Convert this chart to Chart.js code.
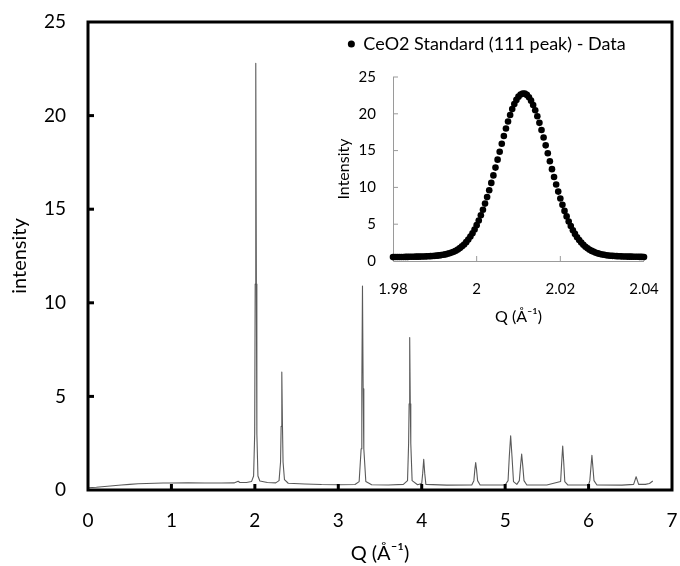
<!DOCTYPE html>
<html lang="en">
<head>
  <meta charset="UTF-8" />
  <title>CeO2 Standard – diffraction pattern</title>
  <script src="https://cdn.jsdelivr.net/npm/chart.js"></script>
  <style>
    html, body { margin: 0; padding: 0; background: #fff; }
    #wrap { position: relative; width: 680px; height: 566px; }
    #mainChart { position: absolute; left: 0; top: 0; }
    #insetChart { position: absolute; left: 330px; top: 25px; }
  </style>
</head>
<body>
  <div id="wrap">
    <canvas id="mainChart" width="680" height="566"></canvas>
    <canvas id="insetChart" width="340" height="305"></canvas>
  </div>

  <script>
    // full pattern (Q in 1/Å, intensity)
    const specQ = [
      0.00, 0.10, 0.20, 0.30, 0.40, 0.50, 0.60, 0.70, 0.80, 0.90, 1.00, 1.20, 1.40, 1.60, 1.75, 1.80, 1.82, 1.90, 1.96,
      1.985, 1.998, 2.004, 2.011, 2.018, 2.024, 2.037, 2.06, 2.15, 2.25,
      2.29, 2.308, 2.315, 2.323, 2.331, 2.338, 2.355, 2.40, 2.60, 2.80, 3.00, 3.20,
      3.25, 3.274, 3.282, 3.29, 3.298, 3.306, 3.33, 3.40, 3.60, 3.78,
      3.83, 3.843, 3.849, 3.856, 3.863, 3.869, 3.885, 3.95,
      4.00, 4.012, 4.024, 4.036, 4.05, 4.30, 4.60,
      4.625, 4.637, 4.647, 4.657, 4.67, 4.70, 5.00,
      5.035, 5.05, 5.066, 5.082, 5.10, 5.14,
      5.17, 5.185, 5.198, 5.211, 5.226, 5.26, 5.50,
      5.665, 5.678, 5.69, 5.702, 5.715, 5.75, 6.00,
      6.015, 6.028, 6.04, 6.052, 6.065, 6.10, 6.40,
      6.54, 6.555, 6.57, 6.585, 6.60, 6.68, 6.73, 6.77
    ];
    const specI = [
      0.12, 0.15, 0.19, 0.23, 0.27, 0.30, 0.33, 0.35, 0.36, 0.37, 0.37, 0.38, 0.37, 0.37, 0.38, 0.47, 0.40, 0.40, 0.45,
      0.75, 3.0, 11.0, 22.8, 11.0, 3.0, 0.75, 0.48, 0.40, 0.38,
      0.50, 1.5, 3.4, 6.3, 3.4, 1.5, 0.55, 0.36, 0.32, 0.29, 0.28, 0.29,
      0.45, 2.2, 5.4, 10.9, 5.4, 2.2, 0.45, 0.28, 0.27, 0.30,
      0.50, 2.5, 4.6, 8.15, 4.6, 2.5, 0.50, 0.28,
      0.35, 0.90, 1.64, 0.90, 0.30, 0.26, 0.27,
      0.50, 1.10, 1.46, 1.10, 0.50, 0.27, 0.27,
      0.50, 1.80, 2.90, 1.80, 0.45, 0.30,
      0.50, 1.30, 1.92, 1.30, 0.50, 0.27, 0.27,
      0.45, 1.50, 2.35, 1.50, 0.45, 0.27, 0.27,
      0.50, 1.20, 1.85, 1.20, 0.50, 0.27, 0.26,
      0.30, 0.50, 0.71, 0.50, 0.30, 0.30, 0.35, 0.48
    ];

    // inset: CeO2 (111) peak
    const insetQ = [
      1.9800, 1.9805, 1.9810, 1.9815, 1.9820, 1.9825, 1.9830, 1.9835, 1.9840, 1.9845,
      1.9850, 1.9855, 1.9860, 1.9865, 1.9870, 1.9875, 1.9880, 1.9885, 1.9890, 1.9895,
      1.9900, 1.9905, 1.9910, 1.9915, 1.9920, 1.9925, 1.9930, 1.9935, 1.9940, 1.9945,
      1.9950, 1.9955, 1.9960, 1.9965, 1.9970, 1.9975, 1.9980, 1.9985, 1.9990, 1.9995,
      2.0000, 2.0005, 2.0010, 2.0015, 2.0020, 2.0025, 2.0030, 2.0035, 2.0040, 2.0045,
      2.0050, 2.0055, 2.0060, 2.0065, 2.0070, 2.0075, 2.0080, 2.0085, 2.0090, 2.0095,
      2.0100, 2.0105, 2.0110, 2.0115, 2.0120, 2.0125, 2.0130, 2.0135, 2.0140, 2.0145,
      2.0150, 2.0155, 2.0160, 2.0165, 2.0170, 2.0175, 2.0180, 2.0185, 2.0190, 2.0195,
      2.0200, 2.0205, 2.0210, 2.0215, 2.0220, 2.0225, 2.0230, 2.0235, 2.0240, 2.0245,
      2.0250, 2.0255, 2.0260, 2.0265, 2.0270, 2.0275, 2.0280, 2.0285, 2.0290, 2.0295,
      2.0300, 2.0305, 2.0310, 2.0315, 2.0320, 2.0325, 2.0330, 2.0335, 2.0340, 2.0345,
      2.0350, 2.0355, 2.0360, 2.0365, 2.0370, 2.0375, 2.0380, 2.0385, 2.0390, 2.0395,
      2.0400
    ];
    const insetI = [
      0.53, 0.54, 0.54, 0.54, 0.55, 0.55, 0.56, 0.56, 0.57, 0.57,
      0.58, 0.59, 0.59, 0.60, 0.61, 0.62, 0.63, 0.65, 0.66, 0.68,
      0.70, 0.73, 0.76, 0.80, 0.85, 0.90, 0.97, 1.05, 1.15, 1.26,
      1.40, 1.57, 1.76, 1.99, 2.25, 2.56, 2.92, 3.32, 3.78, 4.29,
      4.87, 5.51, 6.21, 6.97, 7.80, 8.68, 9.62, 10.61, 11.63, 12.69,
      13.77, 14.85, 15.93, 16.98, 18.00, 18.95, 19.84, 20.64, 21.33, 21.89,
      22.33, 22.62, 22.76, 22.74, 22.57, 22.25, 21.79, 21.20, 20.48, 19.67,
      18.77, 17.80, 16.77, 15.71, 14.64, 13.55, 12.48, 11.42, 10.40, 9.43,
      8.50, 7.63, 6.81, 6.06, 5.37, 4.75, 4.18, 3.68, 3.23, 2.84,
      2.50, 2.20, 1.94, 1.72, 1.53, 1.37, 1.24, 1.13, 1.03, 0.95,
      0.89, 0.84, 0.79, 0.75, 0.72, 0.70, 0.68, 0.66, 0.64, 0.63,
      0.62, 0.61, 0.60, 0.59, 0.59, 0.58, 0.57, 0.57, 0.56, 0.56,
      0.55
    ];
    const insetQTicks = [1.98, 2.00, 2.02, 2.04];
    const insetLabel = "CeO2 Standard (111 peak) - Data";

    const FONT = "Lato, 'Open Sans', sans-serif";

    // draws tick marks pointing into the plot area
    function inwardTicks(ctx, chart, values, axis, len) {
      const area = chart.chartArea;
      const scale = chart.scales[axis];
      values.forEach(v => {
        const p = scale.getPixelForValue(v);
        ctx.beginPath();
        if (axis === "x") {
          ctx.moveTo(p, area.bottom);
          ctx.lineTo(p, area.bottom - len);
        } else {
          ctx.moveTo(area.left, p);
          ctx.lineTo(area.left + len, p);
        }
        ctx.stroke();
      });
    }

    // stop edge tick labels from pushing the plot area inwards
    function fixX(h) {
      return scale => { scale.height = h; scale.paddingLeft = 0; scale.paddingRight = 0; };
    }
    function fixY(w) {
      return scale => { scale.width = w; scale.paddingTop = 0; scale.paddingBottom = 0; };
    }

    const mainFrame = {
      id: "mainFrame",
      afterDraw(chart) {
        const { ctx, chartArea: a } = chart;
        ctx.save();
        ctx.strokeStyle = "#000";
        ctx.lineWidth = 3;
        ctx.strokeRect(a.left, a.top, a.right - a.left, a.bottom - a.top);
        const xs = chart.scales.x.ticks.map(t => t.value).filter(v => v > 0 && v < 7);
        const ys = chart.scales.y.ticks.map(t => t.value).filter(v => v > 0 && v < 25);
        inwardTicks(ctx, chart, xs, "x", 6);
        inwardTicks(ctx, chart, ys, "y", 6);
        ctx.restore();
      }
    };

    new Chart(document.getElementById("mainChart"), {
      type: "line",
      data: {
        datasets: [{
          data: specQ.map((q, i) => ({ x: q, y: specI[i] })),
          borderColor: "#5a5a5a",
          borderWidth: 1.1,
          borderJoinStyle: "round",
          pointRadius: 0,
          tension: 0,
          fill: false
        }]
      },
      options: {
        responsive: false,
        animation: false,
        layout: { padding: { top: 22, right: 8, left: 0, bottom: 0 } },
        plugins: { legend: { display: false }, tooltip: { enabled: false } },
        scales: {
          x: {
            type: "linear",
            min: 0, max: 7,
            ticks: { stepSize: 1, color: "#000", padding: 19, font: { family: FONT, size: 19 } },
            grid: { display: false, drawTicks: false },
            border: { display: false },
            title: { display: true, text: "Q (Å⁻¹)", color: "#000", font: { family: FONT, size: 20 }, padding: { top: 0, bottom: 0 } },
            afterFit: fixX(76)
          },
          y: {
            min: 0, max: 25,
            ticks: { stepSize: 5, color: "#000", padding: 22, font: { family: FONT, size: 19 } },
            grid: { display: false, drawTicks: false },
            border: { display: false },
            title: { display: true, text: "intensity", color: "#000", font: { family: FONT, size: 20 }, padding: { top: 8, bottom: 0 } },
            afterFit: fixY(88)
          }
        }
      },
      plugins: [mainFrame]
    });

    const insetAxes = {
      id: "insetAxes",
      beforeInit(chart) {
        // leave extra room between the legend and the plot
        const fit = chart.legend.fit;
        chart.legend.fit = function () {
          fit.bind(chart.legend)();
          this.height += 14;
        };
      },
      beforeDatasetsDraw(chart) {
        const { ctx, chartArea: a } = chart;
        ctx.save();
        ctx.strokeStyle = "#9a9a9a";
        ctx.lineWidth = 1;
        ctx.beginPath();
        ctx.moveTo(a.left + 0.5, a.top);
        ctx.lineTo(a.left + 0.5, a.bottom + 0.5);
        ctx.lineTo(a.right, a.bottom + 0.5);
        ctx.stroke();
        const xs = chart.scales.x.ticks.map(t => t.value).slice(1);
        const ys = chart.scales.y.ticks.map(t => t.value).filter(v => v > 0);
        inwardTicks(ctx, chart, xs, "x", 5);
        inwardTicks(ctx, chart, ys, "y", 5);
        ctx.restore();
      }
    };

    new Chart(document.getElementById("insetChart"), {
      type: "scatter",
      data: {
        datasets: [{
          label: insetLabel,
          data: insetQ.map((q, i) => ({ x: q, y: insetI[i] })),
          backgroundColor: "#000",
          borderColor: "#000",
          pointRadius: 3.3,
          pointBorderWidth: 0,
          pointStyle: "circle",
          clip: false
        }]
      },
      options: {
        responsive: false,
        animation: false,
        layout: { padding: { top: 0, right: 26, left: 0, bottom: 0 } },
        plugins: {
          tooltip: { enabled: false },
          legend: {
            display: true,
            labels: {
              usePointStyle: true,
              boxWidth: 6, boxHeight: 5,
              padding: 10,
              color: "#000",
              font: { family: FONT, size: 18 }
            }
          }
        },
        scales: {
          x: {
            type: "linear",
            min: 1.98, max: 2.04,
            afterBuildTicks(scale) { scale.ticks = insetQTicks.map(v => ({ value: v })); },
            ticks: {
              color: "#000", padding: 19, font: { family: FONT, size: 15 },
              callback: v => String(Math.round(v * 100) / 100)
            },
            grid: { display: false, drawTicks: false },
            border: { display: false },
            title: { display: true, text: "Q (Å⁻¹)", color: "#000", font: { family: FONT, size: 16 }, padding: { top: 0, bottom: 4 } },
            afterFit: fixX(69)
          },
          y: {
            min: 0, max: 25,
            ticks: { stepSize: 5, color: "#000", padding: 17, font: { family: FONT, size: 15 } },
            grid: { display: false, drawTicks: false },
            border: { display: false },
            title: { display: true, text: "Intensity", color: "#000", font: { family: FONT, size: 16 }, padding: { top: 4, bottom: 0 } },
            afterFit: fixY(63)
          }
        }
      },
      plugins: [insetAxes]
    });
  </script>
</body>
</html>
